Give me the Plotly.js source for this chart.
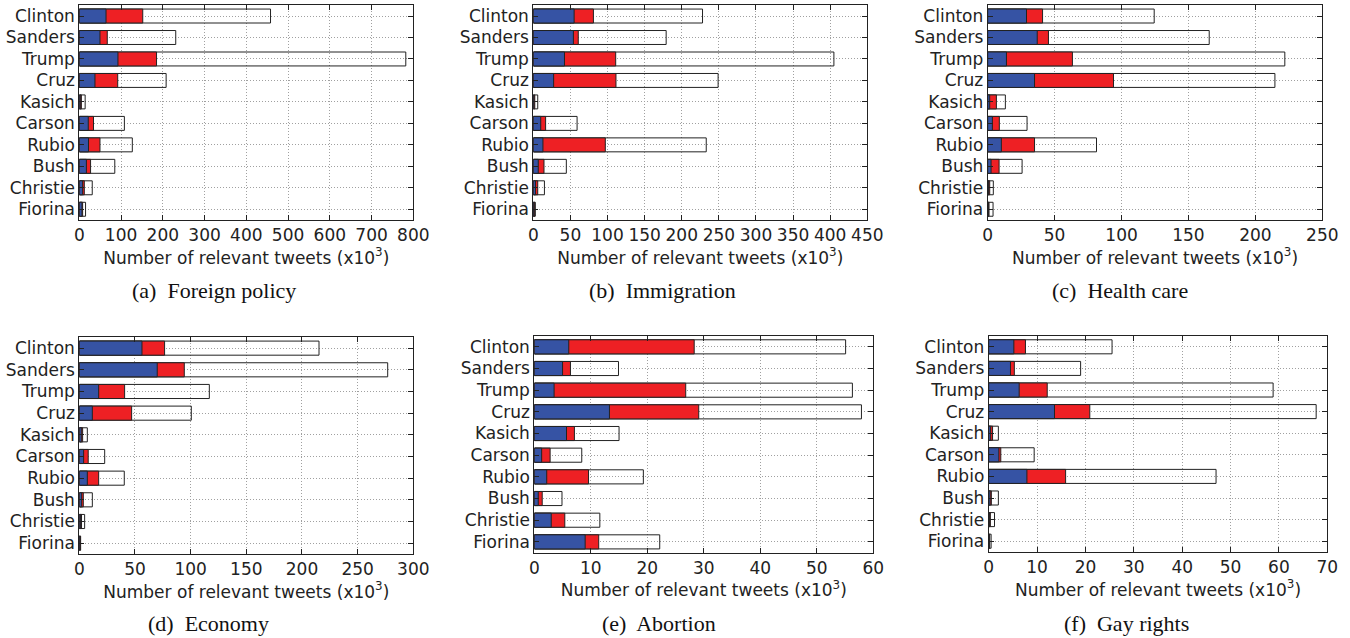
<!DOCTYPE html>
<html>
<head>
<meta charset="utf-8">
<script src="https://cdn.plot.ly/plotly-3.0.1.min.js"></script>
<style>html,body{margin:0;padding:0;background:#fff;}#chart{width:1350px;height:638px;}</style>
</head>
<body>
<div id="chart"></div>
<script>
// Candidates (top to bottom)
const candidates = ["Clinton","Sanders","Trump","Cruz","Kasich","Carson","Rubio","Bush","Christie","Fiorina"];

// Each topic: end of blue segment, end of red segment, total bar length (x10^3 tweets)
const foreignBlue  = [64, 49.5, 92.6, 37.5, 2.5, 21.5, 22, 17, 8, 6.4];
const foreignRed   = [152, 67, 185, 92, 5, 34, 49.5, 27, 12, 8];
const foreignTotal = [458, 231, 782, 208, 14, 108, 127, 85, 31, 15];

const immigBlue  = [55, 54, 42, 27.4, 1, 10, 13, 6.7, 3, 1];
const immigRed   = [81, 60.6, 111, 111.4, 2, 16.6, 97, 14.4, 6, 2];
const immigTotal = [228, 179, 405, 249, 6, 59, 233, 44.5, 15, 2.7];

const healthBlue  = [29, 37, 14, 35, 1.5, 3.5, 10.2, 2.5, 0.7, 0.5];
const healthRed   = [41, 45.4, 63.3, 94, 6.5, 8.7, 35, 8.5, 1.5, 1];
const healthTotal = [124.4, 165.5, 222, 214.6, 13.2, 29.4, 81.3, 25.7, 4.2, 4];

const econBlue  = [56.3, 70, 17.4, 11.7, 1.8, 3.9, 7.2, 2.1, 1.2, 0.6];
const econRed   = [76.6, 94.3, 40.7, 47, 3, 8, 17.4, 3.6, 2, 0.9];
const econTotal = [215.3, 277, 116.8, 100.6, 7.2, 22.8, 40.4, 11.7, 4.8, 1.2];

const abortBlue  = [6.1, 5.0, 3.5, 13.3, 5.7, 1.3, 2.2, 0.7, 3.0, 9.0];
const abortRed   = [28.3, 6.4, 26.8, 29.1, 7.1, 2.8, 9.6, 1.4, 5.4, 11.4];
const abortTotal = [55.1, 14.9, 56.3, 57.9, 15, 8.4, 19.3, 4.9, 11.6, 22.2];

const gayBlue  = [5.2, 4.5, 6.3, 13.6, 0.4, 2.1, 7.9, 0.3, 0.15, 0.1];
const gayRed   = [7.6, 5.3, 12.1, 20.9, 0.8, 2.5, 15.9, 0.55, 0.35, 0.2];
const gayTotal = [25.5, 19.0, 58.8, 67.7, 2.0, 9.4, 47, 2.0, 1.2, 0.5];

const captions = ["(a)  Foreign policy","(b)  Immigration","(c)  Health care","(d)  Economy","(e)  Abortion","(f)  Gay rights"];
const xMax = [800, 450, 250, 300, 60, 70];
const xDtick = [100, 50, 50, 50, 10, 10];

const panels = [
  [foreignBlue, foreignRed, foreignTotal],
  [immigBlue, immigRed, immigTotal],
  [healthBlue, healthRed, healthTotal],
  [econBlue, econRed, econTotal],
  [abortBlue, abortRed, abortTotal],
  [gayBlue, gayRed, gayTotal]
];

// layout geometry in pixels
const W = 1350, H = 638;
const boxes = [
  [79.3, 413.3, 5.3, 220],
  [533.3, 867.3, 5.3, 220],
  [987.7, 1322.3, 5.3, 220],
  [79.3, 413.3, 337.3, 554],
  [534.3, 873.3, 336, 552.7],
  [988.7, 1327.3, 336, 552]
];
const capX = [214, 662, 1120, 208, 659, 1126];
const capY = [290, 290, 290, 623, 623, 623];

const BLUE = "#3653a4", RED = "#ee2024", EDGE = "#222222";
const tickFont = {family: "DejaVu Sans", size: 17, color: "#222"};
const GRID = "#a0a0a0";

const data = [];
const layout = {
  width: W, height: H,
  margin: {l: 0, r: 0, t: 0, b: 0},
  paper_bgcolor: "#fff", plot_bgcolor: "#fff",
  barmode: "overlay",
  showlegend: false,
  annotations: []
};

panels.forEach((p, i) => {
  const n = i + 1;
  const xa = "x" + (n === 1 ? "" : n), ya = "y" + (n === 1 ? "" : n);
  const [blue, red, total] = p;
  const common = {type: "bar", orientation: "h", y: candidates, xaxis: xa, yaxis: ya, width: 0.65, hoverinfo: "x+y"};
  data.push(Object.assign({}, common, {x: total, marker: {color: "rgba(255,255,255,0)", line: {color: EDGE, width: 1}}}));
  data.push(Object.assign({}, common, {x: red, marker: {color: RED, line: {color: EDGE, width: 1}}}));
  data.push(Object.assign({}, common, {x: blue, marker: {color: BLUE, line: {color: EDGE, width: 1}}}));

  const b = boxes[i];
  const xKey = "xaxis" + (n === 1 ? "" : n), yKey = "yaxis" + (n === 1 ? "" : n);
  layout[xKey] = {
    domain: [b[0] / W, b[1] / W],
    anchor: ya,
    range: [0, xMax[i]],
    dtick: xDtick[i], tick0: 0,
    ticks: "inside", ticklen: 5, tickcolor: EDGE,
    showline: true, linecolor: EDGE, linewidth: 1, mirror: "allticks",
    showgrid: true, gridcolor: GRID, griddash: "1px,2px", gridwidth: 1,
    zeroline: false,
    tickfont: tickFont,
    title: {text: "Number of relevant tweets (x10<sup>3</sup>)", font: {family: "DejaVu Sans", size: 17, color: "#222"}, standoff: 0},
    fixedrange: true
  };
  layout[yKey] = {
    domain: [1 - b[3] / H, 1 - b[2] / H],
    anchor: xa,
    type: "category",
    categoryorder: "array", categoryarray: candidates,
    range: [9.5, -0.5],
    ticks: "inside", ticklen: 5, tickcolor: EDGE,
    showline: true, linecolor: EDGE, linewidth: 1, mirror: "allticks",
    showgrid: true, gridcolor: GRID, griddash: "1px,2px", gridwidth: 1,
    zeroline: false,
    tickfont: tickFont,
    ticklabelstandoff: 0,
    fixedrange: true
  };
  layout.annotations.push({
    text: captions[i], xref: "paper", yref: "paper",
    x: capX[i] / W, y: 1 - capY[i] / H, xanchor: "center", yanchor: "middle",
    showarrow: false, font: {family: "Liberation Serif", size: 22, color: "#111"}
  });
});

Plotly.newPlot("chart", data, layout, {displayModeBar: false, staticPlot: true});
</script>
</body>
</html>
